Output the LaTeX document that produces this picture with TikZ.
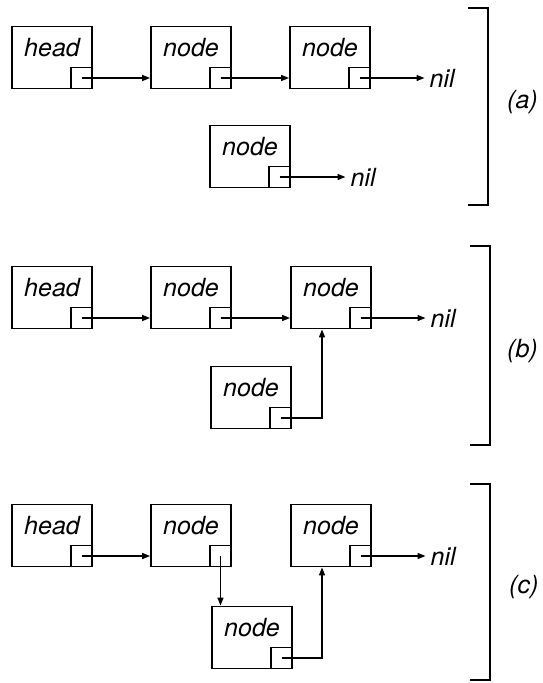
\documentclass[tikz,border=0pt]{standalone}
\usepackage{fontspec}
\setmainfont{TeX Gyre Heros}
\usetikzlibrary{arrows.meta,calc}
\begin{document}
\begin{tikzpicture}[x=1pt,y=-1pt,
  box/.style={draw, line width=1.8pt, minimum width=80pt, minimum height=62pt, inner sep=0pt},
  ptr/.style={draw, line width=1.8pt, minimum size=21pt, inner sep=0pt, anchor=south east},
  lbl/.style={font=\fontsize{25}{30}\selectfont\itshape, inner sep=0pt, anchor=base},
  nil/.style={lbl, anchor=west},
  arr/.style={line width=1.4pt, -{Triangle[length=8pt,width=6pt]}},
  brk/.style={line width=1.8pt},
]
\useasboundingbox (0,0) rectangle (542,683);
\newcommand\listbox[3]{%
  \node[box] (#1) at (#2) {};
  \node[ptr] (#1p) at (#1.south east) {};
  \node[lbl] (#1t) at ([yshift=-30.5pt]#1.north) {#3};
}
% ---------- (a)
\listbox{a1}{52,57.5}{head}
\listbox{a2}{191,57.5}{node}
\listbox{a3}{330,57.5}{node}
\listbox{a4}{250,156.5}{node}
\node[nil] (a3n) at ([xshift=70pt]a3p.center) {nil};
\node[nil] (a4n) at ([xshift=71pt]a4p.center) {nil};
\draw[arr] (a1p.center) -- (a1p.center -| a2.west);
\draw[arr] (a2p.center) -- (a2p.center -| a3.west);
\draw[arr, shorten >=5pt] (a3p.center) -- (a3n.west);
\draw[arr, shorten >=5pt] (a4p.center) -- (a4n.west);
\draw[brk] (468,8) -- (488,8) -- (488,205) -- (468,205);
\node[nil] (la) at (507,102) {(a)};
% ---------- (b)
\listbox{b1}{52,297.5}{head}
\listbox{b2}{191,297.5}{node}
\listbox{b3}{331,297.5}{node}
\listbox{b4}{251,397.5}{node}
\node[nil] (b3n) at ([xshift=70pt]b3p.center) {nil};
\draw[arr] (b1p.center) -- (b1p.center -| b2.west);
\draw[arr] (b2p.center) -- (b2p.center -| b3.west);
\draw[arr, shorten >=5pt] (b3p.center) -- (b3n.west);
\draw[arr] (b4p.center) -| ([xshift=-9pt]b3.south);
\draw[brk] (470,246) -- (490,246) -- (490,445) -- (470,445);
\node[nil] (lb) at (507,351) {(b)};
% ---------- (c)
\listbox{c1}{52,535.5}{head}
\listbox{c2}{191,535.5}{node}
\listbox{c3}{331,535.5}{node}
\listbox{c4}{252,637.5}{node}
\node[nil] (c3n) at ([xshift=70pt]c3p.center) {nil};
\draw[arr] (c1p.center) -- (c1p.center -| c2.west);
\draw[arr] (c2p.center) -- (c2p.center |- c4.north);
\draw[arr, shorten >=5pt] (c3p.center) -- (c3n.west);
\draw[arr] (c4p.center) -| ([xshift=-9pt]c3.south);
\draw[brk] (470,484) -- (490,484) -- (490,680) -- (470,680);
\node[nil] (lc) at (509,587) {(c)};
\end{tikzpicture}
\end{document}
